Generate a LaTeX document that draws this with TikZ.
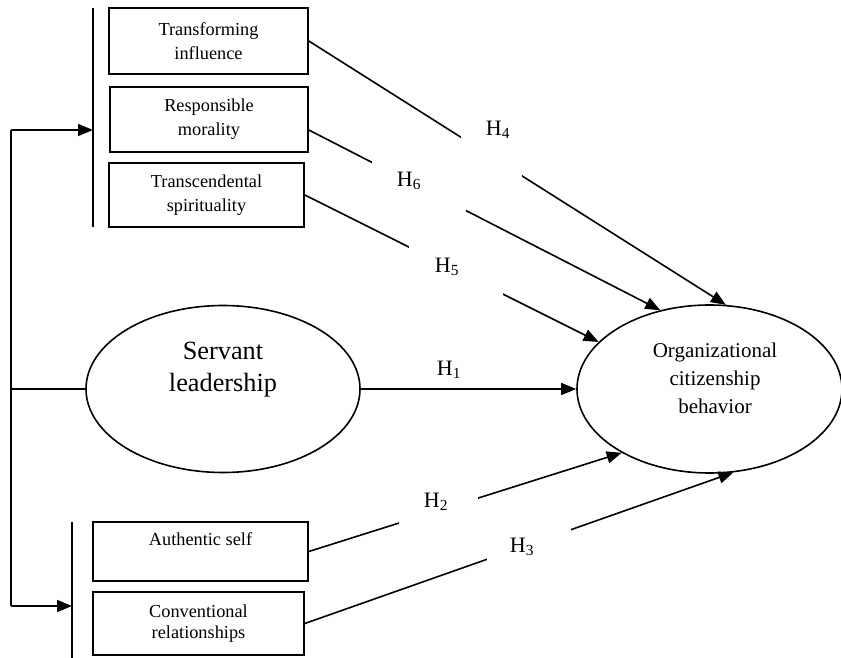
\documentclass[tikz,border=0pt]{standalone}
\usepackage{fontspec}
\setmainfont{Liberation Serif}
\usetikzlibrary{positioning,arrows.meta,shapes.geometric}
\tikzset{
  dimbox/.style={rectangle, draw, line width=1.6pt, align=center, inner sep=2pt,
                 font=\fontsize{18.3}{24}\selectfont},
  oval/.style={ellipse, draw, line width=1.6pt, inner sep=0pt},
  fwd/.style={-{Triangle[length=15pt,width=12pt]}, line width=1.6pt},
  plain/.style={line width=1.6pt},
  hyp/.style={font=\fontsize{22}{26}\selectfont, inner sep=0pt},
  gap/.style={fill=white, inner sep=0pt}, % white break in the line
}

\begin{document}
\begin{tikzpicture}[x=1pt, y=-1pt]
  \useasboundingbox (0,0) rectangle (841,658);

  % dimensions, upper group
  \node[dimbox, minimum width=199pt, minimum height=66pt] (ti) at (208.5,41) {Transforming\\influence};
  \node[dimbox, minimum width=198pt, minimum height=65pt] (rm) at (209,119.5) {Responsible\\morality};
  \node[dimbox, minimum width=195pt, minimum height=64pt] (ts) at (206.5,195) {Transcendental\\spirituality};

  % dimensions, lower group
  \node[dimbox, minimum width=215pt, minimum height=59pt] (as) at (200.5,551.5) {Authentic self\\~};
  \node[dimbox, minimum width=211pt, minimum height=63pt, font=\fontsize{18.3}{21}\selectfont] (cr) at (198.5,623.5) {Conventional\\relationships};

  % constructs
  \node[oval, minimum width=274pt, minimum height=167pt,
        label={[align=center, font=\fontsize{26.3}{32}\selectfont, yshift=19pt]center:Servant\\leadership}] (sl) at (223,389) {};
  \node[oval, minimum width=265pt, minimum height=168pt,
        label={[align=center, font=\fontsize{21}{28}\selectfont, xshift=5.5pt, yshift=11pt]center:Organizational\\citizenship\\behavior}] (ocb) at (709.5,389) {};

  % brackets and spine
  \coordinate (topbar-n) at (93,8);
  \coordinate (topbar-s) at (93,227);
  \coordinate (botbar-n) at (72,522);
  \coordinate (botbar-s) at (72,658);
  \coordinate (topin) at (93,130);
  \coordinate (botin) at (72,606);
  \coordinate (spine-top) at (11,130);
  \coordinate (spine-bot) at (11,606);

  \draw[plain] (topbar-n) -- (topbar-s);
  \draw[plain] (botbar-n) -- (botbar-s);
  \draw[plain] (spine-top) -- (spine-bot);
  \draw[plain] (spine-top |- sl.west) -- (sl.west);
  \draw[fwd] (spine-top) -- (topin);
  \draw[fwd] (spine-bot) -- (botin);

  % hypotheses
  \draw[fwd] (sl.east) -- (ocb.west);
  \draw[fwd] (ti.east) -- node[gap, pos=.437, minimum width=61pt, minimum height=45pt] {} (ocb.79);
  \draw[fwd] ([yshift=-10.5pt]rm.east) -- node[gap, pos=.3125, minimum width=94pt, minimum height=50pt] {} (ocb.122);
  \draw[fwd] (ts.east) -- node[gap, pos=.514, minimum width=94pt, minimum height=50pt] {} (ocb.157);
  \draw[fwd] (as.east) -- node[gap, pos=.415, minimum width=79pt, minimum height=34pt] {} (ocb.216);
  \draw[fwd] (cr.east) -- node[gap, pos=.522, minimum width=84pt, minimum height=38pt] {} (ocb.286);

  \node[hyp] (h1) at (449,370) {H\textsubscript{1}};
  \node[hyp] (h2) at (436,502) {H\textsubscript{2}};
  \node[hyp] (h3) at (522,547) {H\textsubscript{3}};
  \node[hyp] (h4) at (498,130) {H\textsubscript{4}};
  \node[hyp] (h5) at (447,267) {H\textsubscript{5}};
  \node[hyp] (h6) at (409,181) {H\textsubscript{6}};

\end{tikzpicture}
\end{document}
